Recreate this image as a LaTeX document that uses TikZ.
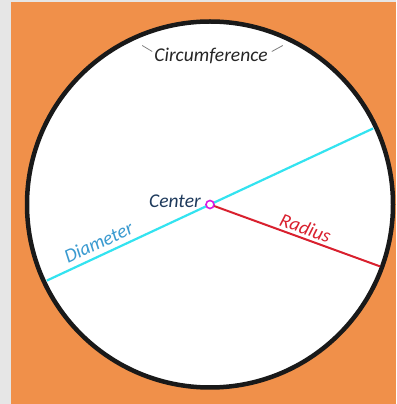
\documentclass[tikz,border=0pt]{standalone}
\usepackage{fontspec}
\setmainfont{Carlito}
\usetikzlibrary{calc,positioning}
\definecolor{bgorange}{HTML}{F0904A}
\definecolor{sidegray}{HTML}{E6E6E6}
\definecolor{diamcyan}{HTML}{33E3F0}
\definecolor{diamtext}{HTML}{3A9AD0}
\definecolor{radred}{HTML}{D9202E}
\definecolor{centtext}{HTML}{1E3A5C}
\definecolor{centmark}{HTML}{D81BE0}
\tikzset{
  rim/.style   = {line width=4.5pt, draw=black!90, fill=white},
  diam/.style  = {line width=2.2pt, diamcyan},
  rad/.style   = {line width=2pt, radred},
  lbl/.style   = {font=\itshape\fontsize{19.5}{23}\selectfont, inner sep=1pt},
  tick/.style  = {gray, line width=0.8pt},
  cmark/.style = {circle, draw=centmark, line width=1.6pt, fill=white,
                  inner sep=0pt, minimum size=8pt},
}

\begin{document}
\begin{tikzpicture}[x=1pt,y=1pt]
  \useasboundingbox (0,0) rectangle (396,404);
  \fill[sidegray] (0,0) rectangle (396,404);
  \fill[bgorange] (11,0) rectangle (396,402);
  \coordinate (c) at (210,199.5);
  \draw[rim] (c) circle[radius=183];
  % ends of the diameter and the radius
  \coordinate (dl) at ($(c)+(205:180)$);
  \coordinate (dr) at ($(c)+(25:180)$);
  \coordinate (re) at ($(c)+(-20:181)$);
  \draw[diam] (dl) -- (dr) node[lbl, diamtext, sloped, above=4pt, pos=0.175] (diamlbl) {Diameter};
  \draw[rad] (c) -- (re) node[lbl, radred, sloped, above=2pt, pos=0.54] (radlbl) {Radius};
  \node[cmark] (cm) at (c) {};
  \node[lbl, centtext, left=8pt of cm.center, yshift=3pt] (centlbl) {Center};
  \node[lbl, black!85] (circ) at ($(c)+(1,149)$) {Circumference};
  \draw[tick] ($(circ.west)+(-1,4)$) -- ++(-10,6);
  \draw[tick] ($(circ.east)+(3,4)$) -- ++(11,6);
\end{tikzpicture}
\end{document}
